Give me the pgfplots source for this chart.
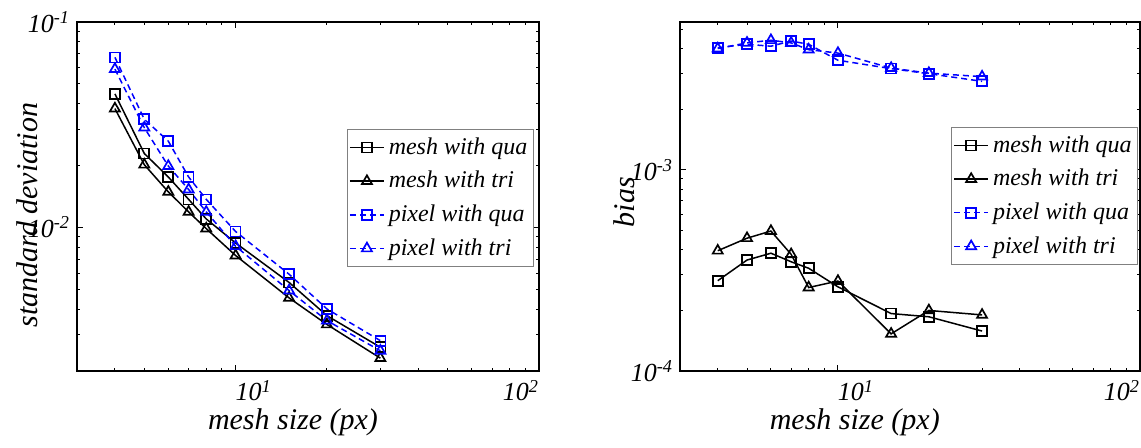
\documentclass[border=0pt]{standalone}
\usepackage{fontspec}
\setmainfont{Liberation Serif}
\usepackage{pgfplots}
\usepackage{pgfplotstable}
\pgfplotsset{compat=1.18}

\definecolor{pxblue}{RGB}{0,0,255}

% standard deviation vs mesh size
\pgfplotstableread{
x   mq      mt      pq      pt
4   0.0447  0.0379  0.0673  0.0590
5   0.0229  0.0202  0.0336  0.0306
6   0.0176  0.0149  0.0263  0.0199
7   0.0137  0.0119  0.0176  0.0153
8   0.0110  0.00987 0.0137  0.0119
10  0.0084  0.0073  0.00955 0.0081
15  0.0054  0.00454 0.00592 0.00493
20  0.00372 0.00337 0.00401 0.00352
30  0.00261 0.00231 0.00281 0.00251
}\stdtab

% bias vs mesh size
\pgfplotstableread{
x   mq       mt       pq       pt
4   2.81e-4  3.96e-4  4.04e-3  4.00e-3
5   3.56e-4  4.57e-4  4.20e-3  4.27e-3
6   3.85e-4  4.96e-4  4.11e-3  4.40e-3
7   3.49e-4  3.80e-4  4.36e-3  4.27e-3
8   3.24e-4  2.60e-4  4.20e-3  3.95e-3
10  2.62e-4  2.80e-4  3.50e-3  3.80e-3
15  1.93e-4  1.53e-4  3.18e-3  3.20e-3
20  1.86e-4  2.00e-4  3.00e-3  3.02e-3
30  1.58e-4  1.90e-4  2.75e-3  2.90e-3
}\biastab

\newcommand{\pw}[1]{10\textsuperscript{#1}}

\pgfplotsset{
  matlabaxis/.style={
    scale only axis,
    height=174.5pt,
    xmin=3, xmax=100,
    tick align=inside,
    major tick length=3pt, minor tick length=1.6pt,
    axis line style={line width=0.9pt},
    every tick/.style={black, line width=0.5pt},
    xtick={10,100},
    xticklabels={\rlap{\pw{1}}, \llap{\pw{2}}},
    minor xtick={3,4,5,6,7,8,9,20,30,40,50,60,70,80,90},
    tick label style={font=\fontsize{13}{15}\selectfont\itshape},
    xticklabel style={yshift=-1pt},
    label style={font=\fontsize{15}{17}\selectfont\itshape},
    xlabel={mesh size (px)},
    legend cell align=left,
    legend style={font=\fontsize{12}{14}\selectfont\itshape, draw=gray,
      line width=0.5pt, anchor=north east, inner xsep=1pt, inner ysep=2pt,
      row sep=3pt},
  },
  serMQ/.style={black, line width=0.75pt, mark=square, mark size=2.5pt, mark options={solid, line width=0.85pt}},
  serMT/.style={black, line width=0.75pt, mark=triangle, mark size=2.9pt, mark options={solid, line width=0.85pt}},
  serPQ/.style={pxblue, line width=0.75pt, dash pattern=on 3pt off 2pt, mark=square, mark size=2.5pt, mark options={solid, line width=0.85pt}},
  serPT/.style={pxblue, line width=0.75pt, dash pattern=on 3pt off 2pt, mark=triangle, mark size=2.9pt, mark options={solid, line width=0.85pt}},
}

\begin{document}
\begin{tikzpicture}
\useasboundingbox (0,0) rectangle (570.5pt,-223.5pt);

\begin{loglogaxis}[matlabaxis,
  at={(38.5pt,-185.5pt)}, anchor=south west,
  width=231pt,
  ymin=2e-3, ymax=1e-1,
  ytick={1e-2,1e-1},
  yticklabels={\pw{-2}, \pw{-1}},
  minor ytick={3e-3,4e-3,5e-3,6e-3,7e-3,8e-3,9e-3,2e-2,3e-2,4e-2,5e-2,6e-2,7e-2,8e-2,9e-2},
  ylabel={standard deviation},
  x label style={at={(axis description cs:0.4675,-0.146)}, anchor=center},
  y label style={at={(axis description cs:-0.108,0.447)}, anchor=center},
  legend style={at={(axis description cs:0.989,0.693)}},
]
\addplot[serMQ] table[x=x, y=mq] {\stdtab};
\addplot[serMT] table[x=x, y=mt] {\stdtab};
\addplot[serPQ] table[x=x, y=pq] {\stdtab};
\addplot[serPT] table[x=x, y=pt] {\stdtab};
\legend{mesh with qua, mesh with tri, pixel with qua, pixel with tri}
\end{loglogaxis}

\begin{loglogaxis}[matlabaxis,
  at={(340pt,-185.5pt)}, anchor=south west,
  width=230pt,
  ymin=1e-4, ymax=5.42e-3,
  ytick={1e-4,1e-3},
  yticklabels={\pw{-4}, \pw{-3}},
  minor ytick={2e-4,3e-4,4e-4,5e-4,6e-4,7e-4,8e-4,9e-4,2e-3,3e-3,4e-3,5e-3},
  ylabel={bias},
  x label style={at={(axis description cs:0.380,-0.146)}, anchor=center},
  y label style={at={(axis description cs:-0.122,0.484)}, anchor=center},
  legend style={at={(axis description cs:0.996,0.699)}},
]
\addplot[serMQ] table[x=x, y=mq] {\biastab};
\addplot[serMT] table[x=x, y=mt] {\biastab};
\addplot[serPQ] table[x=x, y=pq] {\biastab};
\addplot[serPT] table[x=x, y=pt] {\biastab};
\legend{mesh with qua, mesh with tri, pixel with qua, pixel with tri}
\end{loglogaxis}
\end{tikzpicture}
\end{document}
